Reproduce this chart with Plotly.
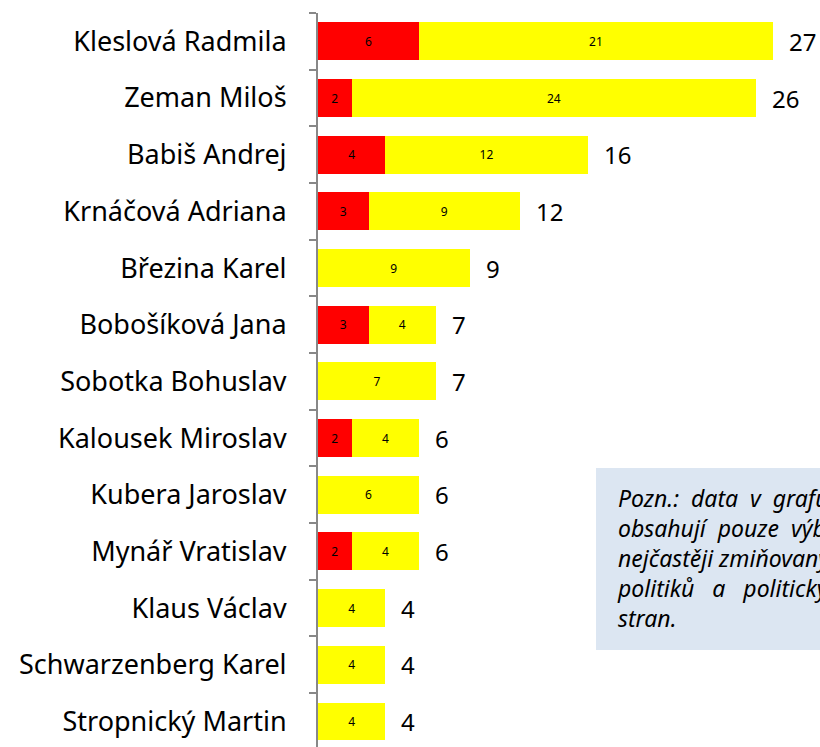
import plotly.graph_objects as go

jmena = [
    "Kleslová Radmila", "Zeman Miloš", "Babiš Andrej", "Krnáčová Adriana",
    "Březina Karel", "Bobošíková Jana", "Sobotka Bohuslav", "Kalousek Miroslav",
    "Kubera Jaroslav", "Mynář Vratislav", "Klaus Václav", "Schwarzenberg Karel",
    "Stropnický Martin",
]
cervena = [6, 2, 4, 3, 0, 3, 0, 2, 0, 2, 0, 0, 0]
zluta = [21, 24, 12, 9, 9, 4, 7, 4, 6, 4, 4, 4, 4]
celkem = [r + z for r, z in zip(cervena, zluta)]

poznamka = [
    "Pozn.:\u00a0\u00a0data\u00a0\u00a0v\u00a0\u00a0grafu",
    "obsahují\u00a0\u00a0pouze\u00a0\u00a0výběr",
    "nejčastěji zmiňovaných",
    "politiků\u00a0\u00a0\u00a0a\u00a0\u00a0\u00a0politických",
    "stran.",
]

FONT = "Noto Sans"

fig = go.Figure()

fig.add_trace(go.Bar(
    y=jmena, x=cervena, orientation="h",
    marker=dict(color="#FF0000", line=dict(width=0)),
    text=[str(v) if v else "" for v in cervena],
    textposition="inside", insidetextanchor="middle",
    textfont=dict(family=FONT, size=12, color="black"),
    showlegend=False,
))
fig.add_trace(go.Bar(
    y=jmena, x=zluta, orientation="h",
    marker=dict(color="#FFFF00", line=dict(width=0)),
    text=[str(v) for v in zluta],
    textposition="inside", insidetextanchor="middle",
    textfont=dict(family=FONT, size=12, color="black"),
    showlegend=False,
))

# souhrnne hodnoty vpravo od sloupcu
for jm, c in zip(jmena, celkem):
    fig.add_annotation(
        x=c, y=jm, text=str(c), showarrow=False,
        xanchor="left", xshift=14,
        font=dict(family=FONT, size=24, color="black"),
    )

# poznamka v ramecku (v originale oriznuta pravym okrajem)
fig.add_shape(
    type="rect", xref="paper", yref="paper",
    x0=(596 - 318) / 502, x1=1.2, y0=1 - (650 - 13) / 734, y1=1 - (468 - 13) / 734,
    fillcolor="#DCE6F2", line=dict(width=0), layer="below",
)
fig.add_annotation(
    xref="paper", yref="paper",
    x=(615 - 318) / 502, y=1 - (480 - 13) / 734,
    xanchor="left", yanchor="top", align="left", showarrow=False,
    text="<br>".join(poznamka),
    font=dict(family=FONT, size=23, color="black", style="italic"),
)

fig.update_layout(
    width=820, height=747,
    margin=dict(l=318, r=0, t=13, b=0),
    barmode="stack", bargap=0.33,
    plot_bgcolor="white", paper_bgcolor="white",
    xaxis=dict(range=[0, 29.8], visible=False),
    yaxis=dict(
        categoryorder="array", categoryarray=jmena,
        range=[12.45, -0.5],
        showline=True, linecolor="#888888", linewidth=2,
        ticks="outside", tickson="boundaries", ticklen=7, tickcolor="#888888",
        tickwidth=2, ticklabelstandoff=24,
        tickfont=dict(family=FONT, size=27, color="black"),
        showgrid=False,
    ),
)

# bez okraju stranky, at graf sedi presne do okna
fig.write_html(
    "out.html",
    config={"displayModeBar": False},
    post_script="document.body.style.margin='0';document.body.style.overflow='hidden';",
)
